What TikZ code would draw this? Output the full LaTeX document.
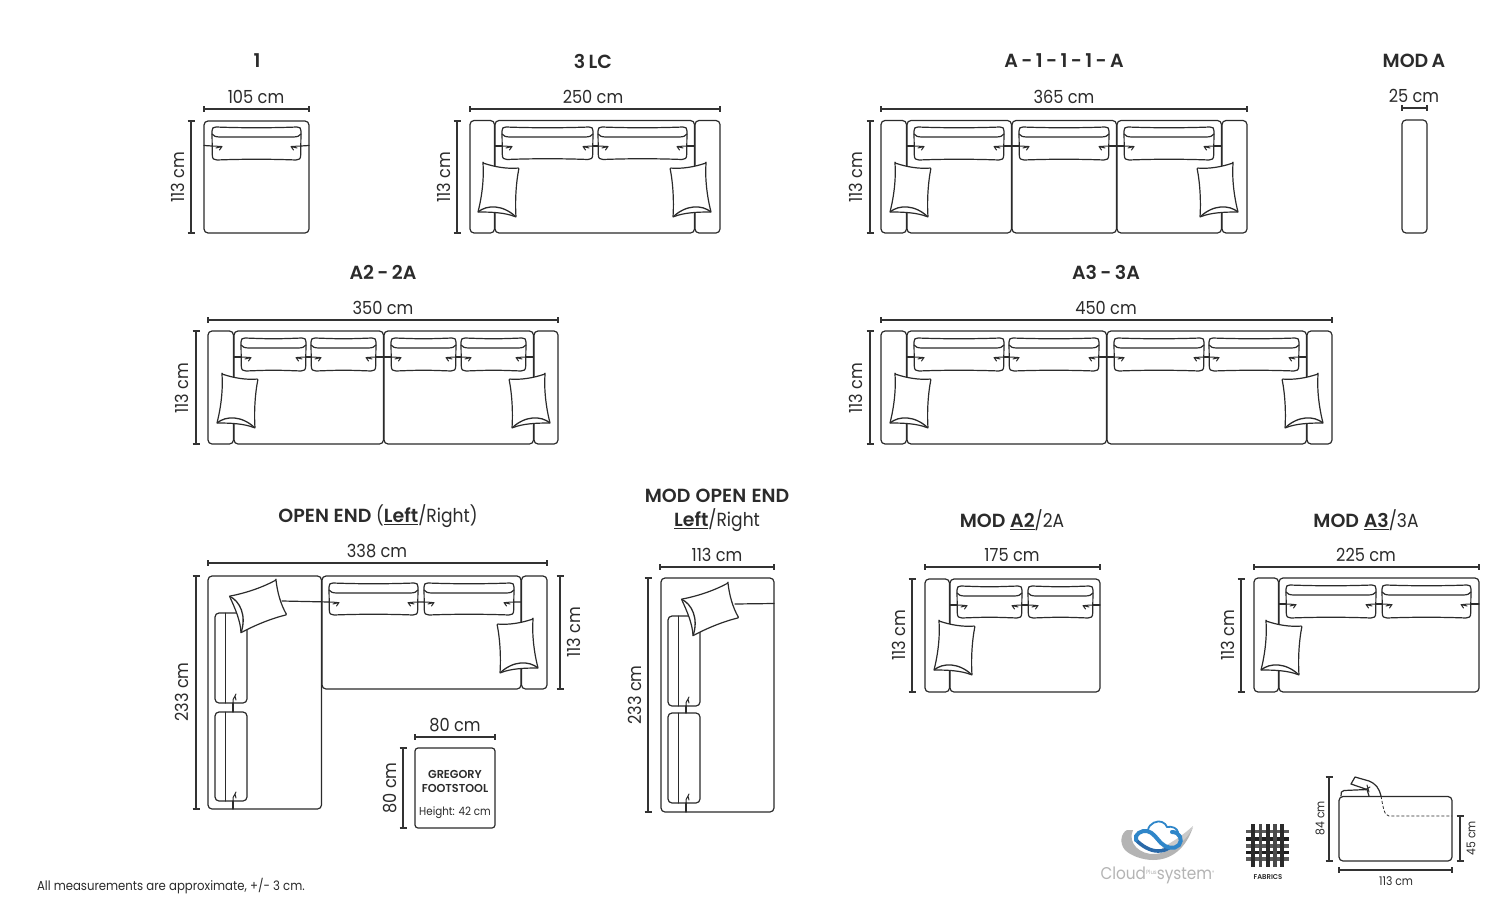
\documentclass[tikz,border=0pt]{standalone}
\usepackage{fontspec}
\setmainfont{Poppins}[FakeStretch=0.9]
\newfontfamily\lightf{Poppins}[FakeStretch=0.9]
\newfontfamily\medf{Poppins SemiBold}[FakeStretch=1.0]
\newfontfamily\boldf{Poppins SemiBold}[FakeStretch=0.98]
\definecolor{ink}{HTML}{2B2B2B}
\definecolor{dimc}{HTML}{333333}
\definecolor{cgray}{HTML}{B4B4B4}
\definecolor{cblue}{HTML}{2F86C9}
\definecolor{cdark}{HTML}{2A69A8}
\newcounter{lab}
\newcommand{\fs}[1]{\fontsize{#1}{#1}\selectfont}
\newcommand{\txt}[4]{\stepcounter{lab}\node[#3] (lab\arabic{lab}) at (#1,#2) {#4};}
\newcommand{\ttl}[3]{\txt{#1}{#2}{}{\fs{19}\medf\spaceskip=.18em #3}}
\newcommand{\dlab}[3]{\txt{#1}{#2}{}{\fs{18}#3}}
\newcommand{\vlab}[3]{\txt{#1}{#2}{rotate=90}{\fs{18}#3}}
\newcommand{\hdim}[3]{\draw[dimline] (#1,#3-3) -- (#1,#3+3) (#1,#3) -- (#2,#3) (#2,#3-3) -- (#2,#3+3);}
\newcommand{\vdim}[3]{\draw[dimline] (#1-3.5,#2) -- (#1+3.5,#2) (#1,#2) -- (#1,#3) (#1-3.5,#3) -- (#1+3.5,#3);}
\newcommand{\rbox}[4]{\draw[sofa,rounded corners=4] (#1,#3) rectangle (#2,#4);}
% seat cushion seen from above: x1 x2 top bottom
\newcommand{\cush}[4]{%
 \draw[sofa] (#1+4,#3) .. controls (#1+30,#3+1) and (#2-30,#3+1) .. (#2-4,#3)
  .. controls (#2-1,#3) and (#2,#3+1) .. (#2,#3+4)
  -- (#2-.3,#4-5) .. controls (#2-.3,#4-1) and (#2-2,#4) .. (#2-5,#4)
  .. controls (#2-30,#4-1) and (#1+30,#4-1) .. (#1+5,#4)
  .. controls (#1+2,#4) and (#1+.3,#4-1) .. (#1+.3,#4-5) -- (#1,#3+4)
  .. controls (#1,#3+1) and (#1+1,#3) .. (#1+4,#3) -- cycle;
 \draw[sofa] (#1,#3+7) .. controls (#1+1,#3+9) and (#1+4,#3+10) .. (#1+8,#3+10) -- (#2-8,#3+10)
  .. controls (#2-4,#3+10) and (#2-1,#3+9) .. (#2,#3+7);
 \draw[sofa,thinl] (#1,#3+19) -- (#1+4,#3+19) .. controls (#1+6,#3+19.5) .. (#1+10,#3+19.5) (#1+4,#3+21) -- (#1+10,#3+19.5) .. controls (#1+9.5,#3+21.5) .. (#1+7.5,#3+23);
 \draw[sofa,thinl] (#2,#3+19) -- (#2-4,#3+19) .. controls (#2-6,#3+19.5) .. (#2-10,#3+19.5) (#2-4,#3+21) -- (#2-10,#3+19.5) .. controls (#2-9.5,#3+21.5) .. (#2-7.5,#3+23);
}
% vertical chaise cushion: x1 x2 top bottom xline xhook
\newcommand{\vcush}[6]{%
 \draw[sofa,rounded corners=4] (#1,#3) rectangle (#2,#4);
 \draw[sofa,thinl] (#5,#3) -- (#5,#4);
 \draw[sofa,thinl] (#6-2,#4) .. controls (#6-2,#4-4) .. (#6,#4-7) -- (#6+1,#4-9) (#6,#4-7) -- (#6+1,#4-3);
}
\newcommand{\pillow}[4]{%  x y scale(+1/-1) rotation
 \begin{scope}[shift={(#1,#2)},rotate=#4,xscale=#3]
 \draw[sofa,fill=white,rounded corners=.8] (0,0) .. controls (12,4) and (24,6) .. (36,5)
   .. controls (33,20) and (32,38) .. (33,54)
   .. controls (22,49.5) and (8,49) .. (-5,49)
   .. controls (-1,33) and (1,16) .. (0,0) -- cycle;
 \draw[sofa,line width=1.3pt] (-5,49) .. controls (4,41.5) and (20,41.5) .. (33,54);
 \end{scope}}
\tikzset{
 sofa/.style={draw=ink,line width=1.2pt,line join=round,line cap=round},
 thinl/.style={line width=1pt},
 dimline/.style={draw=dimc,line width=1.2pt},
 every node/.style={text=ink,inner sep=0pt,outer sep=0pt},
}
\begin{document}
\begin{tikzpicture}[x=1pt,y=-1pt]
\useasboundingbox[fill=white] (0,0) rectangle (1500,910);

% ---- 1
\ttl{257}{61}{1}\dlab{256}{97}{105 cm}\hdim{204}{309}{109}\vdim{191}{121}{233}\vlab{178}{177}{113 cm}
\rbox{204}{309}{121}{233}
\draw[sofa] (204,145.5) -- (212,146) (301,146) -- (309,145.5);
\cush{212}{301}{127}{160}

% ---- 3 LC
\ttl{593}{61}{3 LC}\dlab{593}{97}{250 cm}\hdim{470}{720}{109}\vdim{457}{121}{233}\vlab{444}{177}{113 cm}
\rbox{470}{494.5}{120.5}{233}\rbox{495}{694.5}{120.5}{233}\rbox{695}{720}{120.5}{233}
\draw[sofa] (495,146) -- (502,146) (593,146) -- (598,146) (687,146) -- (694.5,146);
\cush{502}{593}{127}{159.5}\cush{598}{687}{127}{159.5}
\pillow{483}{163}{1}{0}\pillow{706}{163}{-1}{0}

% ---- A-1-1-1-A
\ttl{1064}{61}{A - 1 - 1 - 1 - A}\dlab{1064}{97}{365 cm}\hdim{881}{1247}{109}\vdim{870}{121}{233}\vlab{856}{177}{113 cm}
\rbox{881}{906.5}{120.5}{233}\rbox{907}{1011.5}{120.5}{233}\rbox{1012}{1116.5}{120.5}{233}\rbox{1117}{1221.5}{120.5}{233}\rbox{1222}{1247}{120.5}{233}
\draw[sofa] (907,146) -- (914,146) (1004,146) -- (1019,146) (1109,146) -- (1124,146) (1214,146) -- (1221.5,146);
\cush{914}{1004}{127}{160}\cush{1019}{1109}{127}{160}\cush{1124}{1214}{127}{160}
\pillow{895}{163}{1}{0}\pillow{1233}{163}{-1}{0}

% ---- MOD A
\ttl{1414}{61}{MOD A}\dlab{1414}{96}{25 cm}\hdim{1402}{1427}{108}
\rbox{1402}{1427}{120}{233}

% ---- A2-2A
\ttl{383}{272}{A2 - 2A}\dlab{383}{308}{350 cm}\hdim{208}{558}{320}\vdim{196}{331}{444}\vlab{182}{388}{113 cm}
\rbox{208}{233.5}{331}{444}\rbox{234}{383.5}{331}{444}\rbox{384}{533.5}{331}{444}\rbox{534}{558}{331}{444}
\draw[sofa] (234,357) -- (241,357) (306,357) -- (311,357) (376,357) -- (391,357) (456,357) -- (461,357) (526,357) -- (533.5,357);
\cush{241}{306}{338}{371}\cush{311}{376}{338}{371}\cush{391}{456}{338}{371}\cush{461}{526}{338}{371}
\pillow{222}{374}{1}{0}\pillow{545}{374}{-1}{0}

% ---- A3-3A
\ttl{1106}{272}{A3 - 3A}\dlab{1106}{308}{450 cm}\hdim{881}{1332}{320}\vdim{870}{331}{444}\vlab{856}{388}{113 cm}
\rbox{881}{906.5}{331}{444}\rbox{907}{1106.5}{331}{444}\rbox{1107}{1306.5}{331}{444}\rbox{1307}{1332}{331}{444}
\draw[sofa] (907,357) -- (914,357) (1004,357) -- (1009,357) (1099,357) -- (1114,357) (1204,357) -- (1209,357) (1299,357) -- (1306.5,357);
\cush{914}{1004}{338}{371}\cush{1009}{1099}{338}{371}\cush{1114}{1204}{338}{371}\cush{1209}{1299}{338}{371}
\pillow{895}{374}{1}{0}\pillow{1318}{374}{-1}{0}

% ---- OPEN END
\txt{378}{516.5}{}{\fs{19}\medf\spaceskip=.25em OPEN END \lightf(\medf\underline{Left}\lightf/Right)}
\dlab{377}{551}{338 cm}\hdim{208}{547}{563}\vdim{196}{576}{809}\vlab{182}{692}{233 cm}
\vdim{560}{576}{689}\vlab{574}{632}{113 cm}
\rbox{208}{321.5}{576}{809}\rbox{322}{521}{576}{689}\rbox{521.5}{547}{576}{689}
\draw[sofa] (282,601) -- (329,602) (418,602) -- (424,602) (514,602) -- (521,602);
\draw[sofa] (233,801) -- (233,809) (233,703) -- (233,712);
\cush{329}{418}{583}{615}\cush{424}{514}{583}{615}
\vcush{215}{247}{613}{703}{225}{235}
\vcush{215}{247}{712}{801}{225}{235}
\pillow{276}{580}{1}{-65}\pillow{533}{619}{-1}{0}

% ---- Footstool
\dlab{455}{725}{80 cm}\hdim{415}{495}{737}\vdim{403}{748}{828}\vlab{390}{788}{80 cm}
\draw[sofa,rounded corners=3] (415,748) rectangle (495,828);
\txt{455}{774}{}{\fs{11.5}\boldf GREGORY}
\txt{455}{788}{}{\fs{11.5}\boldf FOOTSTOOL}
\txt{455}{813}{}{\fs{11.5}Height: 42 cm}

% ---- MOD OPEN END
\txt{717}{496}{}{\fs{19}\medf\spaceskip=.28em MOD OPEN END}
\txt{717}{520.5}{}{\fs{19}\medf\underline{Left}\lightf/Right}
\dlab{717}{555}{113 cm}\hdim{660}{774}{567}\vdim{648}{578}{812}\vlab{635}{695}{233 cm}
\rbox{661}{774}{578}{812}
\draw[sofa] (735,604) -- (774,603.5);
\draw[sofa] (686,803) -- (686,812) (686,706) -- (686,713);
\vcush{668}{700}{616}{706}{678}{688}
\vcush{668}{700}{713}{803}{678}{688}
\pillow{728}{583}{1}{-65}

% ---- MOD A2
\txt{1012}{520.5}{}{\fs{19}\medf\spaceskip=.25em MOD \underline{A2}\lightf/2A}
\dlab{1012}{555}{175 cm}\hdim{925}{1100}{567}\vdim{912}{579}{692}\vlab{899}{635}{113 cm}
\rbox{925}{949.5}{579}{692}\rbox{950}{1100}{579}{692}
\draw[sofa] (950,605) -- (957,605) (1022,605) -- (1028,605) (1093,605) -- (1100,605);
\cush{957}{1022}{586}{618}\cush{1028}{1093}{586}{618}
\pillow{939}{621}{1}{0}

% ---- MOD A3
\txt{1366}{520.5}{}{\fs{19}\medf\spaceskip=.25em MOD \underline{A3}\lightf/3A}
\dlab{1366}{555}{225 cm}\hdim{1254}{1479}{567}\vdim{1241}{579}{692}\vlab{1228}{635}{113 cm}
\rbox{1254}{1278.5}{578}{692}\rbox{1279}{1479}{578}{692}
\draw[sofa] (1279,604) -- (1286,604) (1376,604) -- (1382,604) (1471,604) -- (1479,604);
\cush{1286}{1376}{585}{618}\cush{1382}{1471}{585}{618}
\pillow{1266}{621}{1}{0}

% ---- side section
\draw[sofa,rounded corners=4] (1339,796.5) rectangle (1452,861);
\draw[sofa] (1341,796) .. controls (1341,793) and (1341,790.5) .. (1344,790.5) -- (1367,789.5) (1367,789.5) -- (1369,796);
\draw[sofa] (1367,789.5) -- (1351,784) -- (1355,777) -- (1369,781) .. controls (1376,784) and (1379,788) .. (1381,796);
\draw[sofa,thinl] (1367,785) -- (1369,792) (1365,790) -- (1370,787);
\draw[draw=ink,line width=.8pt,dash pattern=on 3pt off 2pt] (1381,796) .. controls (1383,806) and (1384,816) .. (1389,816) -- (1452,816);
\vdim{1329}{777}{861}\vdim{1460}{816}{861}\hdim{1339}{1452}{870}
\txt{1320}{818}{rotate=90}{\fs{12}84 cm}
\txt{1471}{838}{rotate=90}{\fs{12}45 cm}
\txt{1396}{881}{}{\fs{12}113 cm}

% ---- fabrics icon
\foreach \yy/\cc in {831.5/5A5A5A,839/1F1F1F,846/5A5A5A,852.5/1F1F1F,859/5A5A5A}
  {\definecolor{tmpc}{HTML}{\cc}\draw[draw=tmpc,line width=3.1pt] (1246,\yy) -- (1289,\yy);}
\foreach \xx/\cc in {1253/2A2A2A,1260.5/4A4A4A,1268/2A2A2A,1275/4A4A4A,1282/2A2A2A}
  {\definecolor{tmpc}{HTML}{\cc}\draw[draw=tmpc,line width=3.1pt] (\xx,824) -- (\xx,867);}
\txt{1268}{877}{}{\fs{7}\boldf FABRICS}

% ---- logo
\fill[cgray] (1127,830) .. controls (1121,833) and (1119,843) .. (1125,850) .. controls (1131,856) and (1143,860) .. (1153,860)
  .. controls (1172,860) and (1186,848) .. (1193,827)
  .. controls (1184,842) and (1170,853) .. (1155,854) .. controls (1140,855) and (1127,843) .. (1133,830) -- cycle;
\fill[cgray!70] (1162,848) .. controls (1172,842) and (1182,836) .. (1193,826) .. controls (1188,840) and (1176,848) .. (1162,850) -- cycle;
\draw[draw=cblue,line width=1.8pt,line cap=round] (1148,830) .. controls (1149,823) and (1158,820) .. (1162,822) .. controls (1165,823) and (1166,825) .. (1167,827) .. controls (1172,826) and (1177,828) .. (1178,832);
\draw[draw=cdark,line width=3.6pt,line cap=round] (1136,840) .. controls (1142,846) and (1150,851) .. (1158,851) .. controls (1162,851) and (1166,850) .. (1169,848);
\draw[draw=cblue,line width=4pt,line cap=round] (1136,840) .. controls (1134,834) and (1142,830) .. (1147,831) .. controls (1153,832) and (1157,839) .. (1161,843) .. controls (1166,848) and (1174,850) .. (1179,845) .. controls (1183,840) and (1180,832) .. (1172,832);
\txt{1157.5}{875}{}{\fs{17}\color{cgray}Cloud\raisebox{5pt}{\fs{6}Plus}system\raisebox{5pt}{\fs{5}®}}

% ---- footnote
\txt{37}{886}{anchor=west}{\fs{13}All measurements are approximate, +/- 3 cm.}
\end{tikzpicture}
\end{document}
